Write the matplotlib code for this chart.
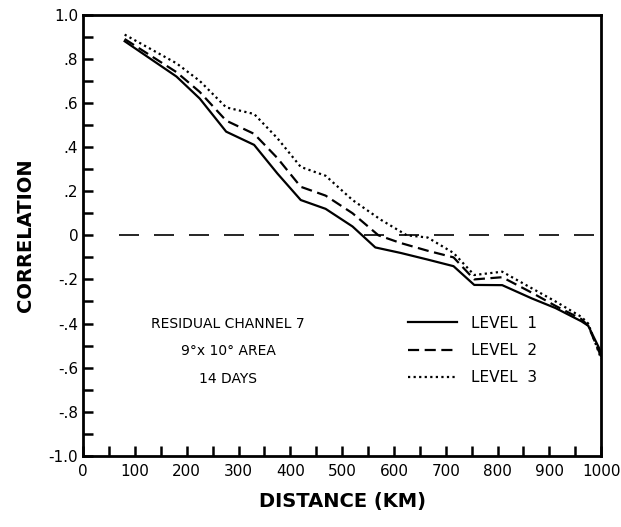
import numpy as np
import matplotlib.pyplot as plt
from matplotlib.ticker import MultipleLocator, FixedLocator

# distances (km) and correlations
dist1 = [80, 180, 225, 276, 330, 375, 420, 468, 520, 564, 613, 665, 715, 755, 809, 866, 912, 962, 975, 1000]
level1 = [0.88, 0.72, 0.62, 0.47, 0.41, 0.28, 0.16, 0.12, 0.04, -0.055, -0.08, -0.11, -0.14, -0.225, -0.226, -0.286, -0.33, -0.39, -0.41, -0.53]

dist2 = [80, 180, 225, 276, 330, 375, 420, 468, 520, 570, 613, 665, 715, 755, 809, 866, 912, 962, 975, 1000]
level2 = [0.89, 0.74, 0.65, 0.52, 0.46, 0.35, 0.22, 0.18, 0.10, 0.0, -0.035, -0.07, -0.10, -0.20, -0.19, -0.26, -0.32, -0.38, -0.41, -0.55]

dist3 = [80, 180, 225, 276, 330, 375, 420, 468, 520, 575, 625, 665, 715, 755, 809, 866, 912, 962, 975, 1000]
level3 = [0.91, 0.78, 0.70, 0.58, 0.55, 0.44, 0.31, 0.27, 0.16, 0.07, 0.0, -0.01, -0.08, -0.18, -0.165, -0.24, -0.30, -0.37, -0.40, -0.56]

y_ticks = [1.0, 0.8, 0.6, 0.4, 0.2, 0.0, -0.2, -0.4, -0.6, -0.8, -1.0]
y_labels = ['1.0', '.8', '.6', '.4', '.2', '0', '-.2', '-.4', '-.6', '-.8', '-1.0']
x_ticks = list(range(0, 1001, 100))
x_labels = [str(v) for v in x_ticks]

fig = plt.figure(figsize=(6.21, 5.27), dpi=100)
ax = fig.add_axes([0.134, 0.135, 0.834, 0.837])

ax.plot(dist1, level1, color='black', lw=1.6, ls='-', label='LEVEL  1')
ax.plot(dist2, level2, color='black', lw=1.6, ls=(0, (5, 2.5)), label='LEVEL  2')
ax.plot(dist3, level3, color='black', lw=1.6, ls=(0, (1, 1.5)), label='LEVEL  3')
ax.axhline(0, color='black', lw=1.2, ls=(0, (12, 9)), xmin=0.07)

ax.set_xlim(0, 1000)
ax.set_ylim(-1.0, 1.0)
ax.xaxis.set_major_locator(FixedLocator(x_ticks))
ax.set_xticklabels(x_labels)
ax.xaxis.set_minor_locator(MultipleLocator(50))
ax.yaxis.set_major_locator(FixedLocator(y_ticks))
ax.set_yticklabels(y_labels)
ax.yaxis.set_minor_locator(MultipleLocator(0.1))
ax.tick_params(which='both', direction='in', width=1.8, labelsize=11)
ax.tick_params(which='major', length=7)
ax.tick_params(which='minor', length=7)
ax.tick_params(axis='x', pad=6)
for s in ax.spines.values():
    s.set_linewidth(2)

ax.set_xlabel('DISTANCE (KM)', fontsize=14, fontweight='bold', labelpad=9)
ax.set_ylabel('CORRELATION', fontsize=14, fontweight='bold', labelpad=10)

ax.text(280, -0.40, 'RESIDUAL CHANNEL 7', ha='center', va='center', fontsize=10)
ax.text(280, -0.525, '9°x 10° AREA', ha='center', va='center', fontsize=10)
ax.text(280, -0.65, '14 DAYS', ha='center', va='center', fontsize=10)

ax.legend(loc='upper left', bbox_to_anchor=(628, -0.365), bbox_transform=ax.transData,
          frameon=False, fontsize=11, handlelength=3.2, handletextpad=0.9,
          labelspacing=0.8, borderpad=0, borderaxespad=0)

fig.savefig('out.png', dpi=100)
